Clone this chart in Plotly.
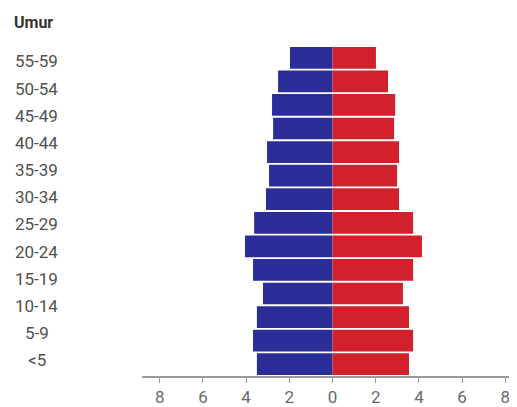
import plotly.graph_objects as go

# Data (bars listed from bottom to top)
male = [3.5, 3.68, 3.5, 3.22, 3.68, 4.05, 3.63, 3.08, 2.94, 3.03, 2.75, 2.8, 2.52, 1.97]
female = [3.54, 3.73, 3.54, 3.26, 3.73, 4.14, 3.73, 3.08, 2.99, 3.08, 2.85, 2.9, 2.57, 2.01]
age_labels = ["<5", "5-9", "10-14", "15-19", "20-24", "25-29", "30-34",
              "35-39", "40-44", "45-49", "50-54", "55-59"]
x_tickvals = [-8, -6, -4, -2, 0, 2, 4, 6, 8]
x_ticktext = ["8", "6", "4", "2", "0", "2", "4", "6", "8"]

ypos = list(range(len(male)))

fig = go.Figure()
fig.add_trace(go.Bar(y=ypos, x=[-v for v in male], orientation="h",
                     marker=dict(color="#2b2e98", line=dict(width=0)),
                     name="Laki-laki", showlegend=False))
fig.add_trace(go.Bar(y=ypos, x=female, orientation="h",
                     marker=dict(color="#d2202c", line=dict(width=0)),
                     name="Perempuan", showlegend=False))

for i, lab in enumerate(age_labels):
    fig.add_annotation(x=-0.28, xref="paper", xanchor="center",
                       y=i, yref="y2", text=lab, showarrow=False,
                       font=dict(family="Roboto", size=17, color="#505050"))

fig.add_annotation(x=-0.347, xref="paper", xanchor="left",
                   y=1.072, yref="paper", yanchor="middle",
                   text="<b>Umur</b>", showarrow=False,
                   font=dict(family="Roboto", size=16, color="#333333"))

fig.update_layout(
    width=509, height=399,
    margin=dict(l=134, r=0, t=38, b=20),
    paper_bgcolor="white", plot_bgcolor="white",
    barmode="relative", bargap=0.08,
    font=dict(family="Roboto", size=16, color="#666666"),
    xaxis=dict(range=[-8.82, 8.54], tickmode="array", tickvals=x_tickvals,
               ticktext=x_ticktext, showgrid=False, zeroline=False,
               showline=True, linecolor="#9a9a9a", linewidth=1.5,
               ticks="outside", ticklen=5, tickcolor="#9a9a9a",
               tickfont=dict(family="Roboto", size=17, color="#6a6a6a")),
    yaxis=dict(range=[-0.5, 13.5], showticklabels=False, showgrid=False,
               zeroline=False, showline=False, ticks=""),
    yaxis2=dict(range=[-0.584, 11.57], overlaying="y", visible=False),
)

fig.write_html("out.html")
